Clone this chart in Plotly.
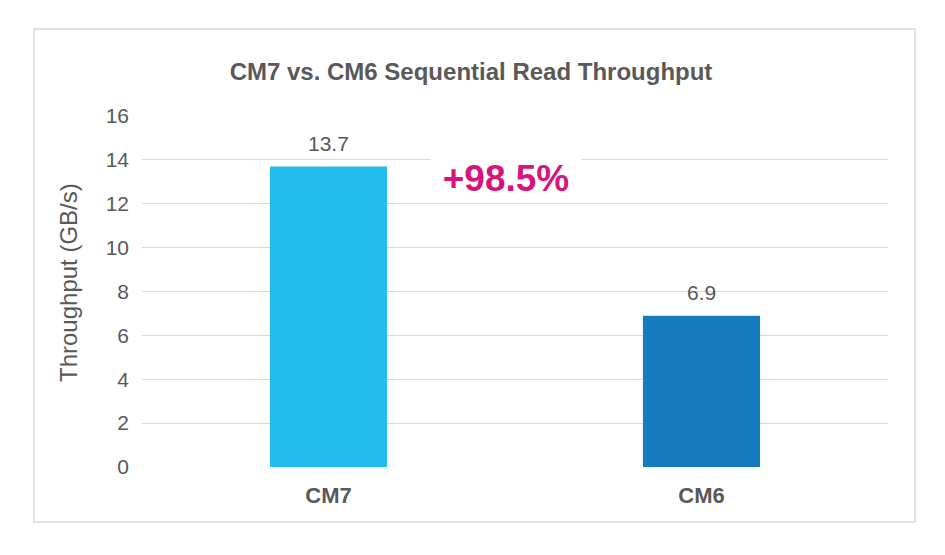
import plotly.graph_objects as go

categories = ["CM7", "CM6"]
values = [13.7, 6.9]
value_labels = ["13.7", "6.9"]
bar_colors = ["#22BDEE", "#137BBE"]
y_ticks = [0, 2, 4, 6, 8, 10, 12, 14, 16]
title_text = "CM7 vs. CM6 Sequential Read Throughput"
y_title = "Throughput (GB/s)"
delta_text = "+98.5%"

FONT = "Liberation Sans, Arial, sans-serif"
GRAY = "#595959"

# page body has an 8px offset; layout is compensated
OFF = 8
L, R, T, B = 142 - OFF, 945 - (888 - OFF), 116 - OFF, 555 - (467 - OFF)
PW, PH = 746, 351


def px(xr):
    return (xr - 142) / PW


def py(yr):
    return (467 - yr) / PH


fig = go.Figure()
fig.add_trace(go.Bar(
    x=categories, y=values, marker=dict(color=bar_colors, line=dict(width=0)),
    width=0.314, hoverinfo="skip",
))

annotations = []
for c, v, t in zip(categories, values, value_labels):
    annotations.append(dict(x=c, y=v, xref="x", yref="y", text=t, showarrow=False,
                            yanchor="middle", yshift=23,
                            font=dict(family=FONT, size=21, color=GRAY)))
annotations.append(dict(x=px(506), y=py(178), xref="paper", yref="paper",
                        text="<b>" + delta_text + "</b>", showarrow=False,
                        bgcolor="white", width=150, height=44, borderpad=0,
                        xanchor="center", yanchor="middle",
                        font=dict(family=FONT, size=37, color="#D6157C")))
annotations.append(dict(x=px(68), y=py(283), xref="paper", yref="paper",
                        text=y_title, textangle=-90, showarrow=False,
                        xanchor="center", yanchor="middle",
                        font=dict(family=FONT, size=24, color=GRAY)))

fig.update_layout(
    width=945, height=555,
    margin=dict(l=L, r=R, t=T, b=B),
    paper_bgcolor="white", plot_bgcolor="white",
    showlegend=False,
    title=dict(text="<b>" + title_text + "</b>", x=(471 - OFF) / 945, xanchor="center",
               y=1 - (72 - OFF) / 555, yanchor="middle", xref="container", yref="container",
               font=dict(family=FONT, size=24, color=GRAY)),
    xaxis=dict(showgrid=False, showline=False, zeroline=False, ticks="",
               tickfont=dict(family=FONT, size=22, color=GRAY, weight="bold"),
               ticklabelstandoff=13),
    yaxis=dict(range=[0, 16], tickvals=y_ticks, showgrid=True, gridcolor="#D9D9D9",
               gridwidth=1.3, zeroline=False, showline=False, ticks="",
               tickfont=dict(family=FONT, size=21, color=GRAY),
               ticklabelstandoff=12),
    annotations=annotations,
    shapes=[dict(type="rect", xref="paper", yref="paper",
                 x0=px(34), x1=px(915),
                 y0=py(522), y1=py(29),
                 line=dict(color="#D9D9D9", width=1.5), fillcolor="rgba(0,0,0,0)",
                 layer="below")],
)

fig.write_html("out.html")
